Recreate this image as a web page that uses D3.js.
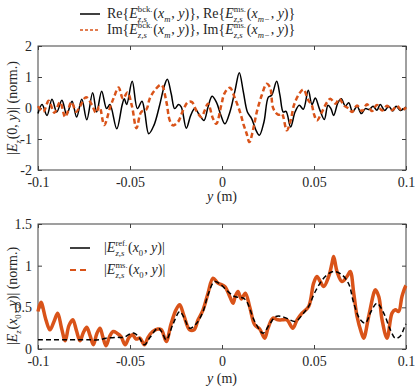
<!DOCTYPE html>
<html>
<head>
<meta charset="utf-8">
<script src="https://cdn.jsdelivr.net/npm/d3@7"></script>
<style>
  body { margin: 0; background: #fff; }
  svg text { font-family: Liberation Serif, Times New Roman, DejaVu Serif, serif; fill: #262626; white-space: pre; }
</style>
</head>
<body>
<div id="chart"></div>
<script>
// ---- data ----
// top panel: Re{} curve (black solid)
var reY = [-0.1, -0.0978, -0.0951, -0.0924, -0.0898, -0.0870, -0.0844, -0.0815, -0.0790, -0.0762,
  -0.0735, -0.0703, -0.0681, -0.0654, -0.0627, -0.0609, -0.0572, -0.0543, -0.0531, -0.0518,
  -0.0488, -0.0460, -0.0435, -0.0420, -0.0398, -0.0370, -0.0339, -0.0315, -0.0297, -0.0276,
  -0.0257, -0.0236, -0.0221, -0.0194, -0.0170, -0.0148, -0.0121, -0.0098, -0.0076, -0.0054,
  -0.0030, -0.0008, 0.0016, 0.0043, 0.0071, 0.0094, 0.0116, 0.0138, 0.0161, 0.0185,
  0.0203, 0.0228, 0.0252, 0.0270, 0.0297, 0.0315, 0.0333, 0.0348, 0.0373, 0.0397,
  0.0420, 0.0442, 0.0469, 0.0489, 0.0507, 0.0529, 0.0556, 0.0576, 0.0592, 0.0607,
  0.0630, 0.0648, 0.0670, 0.0689, 0.0710, 0.0734, 0.0757, 0.0779, 0.0801, 0.0821,
  0.0842, 0.0860, 0.0884, 0.0906, 0.0928, 0.0946, 0.0969, 0.0984, 0.1];
var reVal = [-0.18, 0.11, -0.24, 0.28, -0.13, 0.25, -0.21, 0.22, -0.29, 0.28,
  -0.38, 0.49, -0.13, 0.54, -0.02, 0.11, -0.67, 0.09, 0.30, 0.11,
  0.86, -0.02, 0.22, -0.13, -0.83, -0.56, 0.09, 0.68, 0.93, 0.46,
  -0.02, 0.11, 0.03, -0.65, -0.24, -0.02, -0.24, -0.40, 0.03, 0.38,
  0.18, -0.20, -0.51, -0.13, 0.57, 1.14, 0.52, -0.13, -0.34, -0.72,
  -0.88, -0.45, 0.35, 0.41, 0.86, 0.41, -0.13, -0.11, -0.61, -0.13,
  0.09, -0.04, 0.57, 0.11, 0.32, -0.02, -0.37, 0.09, -0.02, -0.24,
  0.17, 0.30, 0.06, 0.17, -0.13, 0.06, -0.18, -0.02, -0.05, 0.06,
  -0.07, 0.11, -0.08, 0.06, -0.10, 0.06, -0.08, -0.04, 0.03];

// top panel: Im{} curve (orange dotted)
var imY = [-0.1, -0.0971, -0.0942, -0.0911, -0.0880, -0.0852, -0.0818, -0.0793, -0.0772, -0.0739,
  -0.0707, -0.0685, -0.0666, -0.0640, -0.0609, -0.0587, -0.0562, -0.0538, -0.0514, -0.0489,
  -0.0465, -0.0439, -0.0411, -0.0393, -0.0366, -0.0330, -0.0302, -0.0284, -0.0266, -0.0239,
  -0.0212, -0.0185, -0.0163, -0.0140, -0.0112, -0.0094, -0.0076, -0.0049, -0.0031, -0.0004,
  0.0015, 0.0043, 0.0071, 0.0098, 0.0116, 0.0134, 0.0149, 0.0170, 0.0189, 0.0216,
  0.0243, 0.0261, 0.0279, 0.0306, 0.0325, 0.0352, 0.0373, 0.0391, 0.0415, 0.0442,
  0.0469, 0.0488, 0.0500, 0.0516, 0.0543, 0.0571, 0.0589, 0.0616, 0.0638, 0.0661,
  0.0689, 0.0707, 0.0734, 0.0761, 0.0788, 0.0815, 0.0842, 0.0870, 0.0897, 0.0924,
  0.0951, 0.0978, 0.1];
var imVal = [0.06, -0.12, 0.23, -0.15, 0.19, -0.29, 0.19, -0.12, 0.05, 0.35,
  0.10, -0.15, 0.05, -0.55, 0.0, 0.35, 0.66, 0.30, 0.50, 0.05,
  -0.65, -0.13, -0.05, 0.30, 0.57, 0.75, 0.19, -0.40, -0.56, -0.45,
  -0.08, 0.19, 0.19, -0.08, -0.29, -0.08, 0.14, -0.34, -0.51, 0.09,
  0.49, 0.65, 0.30, -0.13, -0.51, -0.83, -1.10, -0.67, -0.13, 0.41,
  0.78, 0.67, -0.02, -0.22, -0.18, -0.72, -0.40, 0.09, 0.41, 0.60,
  0.25, 0.09, -0.20, -0.40, -0.13, 0.19, 0.30, 0.14, 0.30, 0.09,
  -0.02, -0.13, 0.08, -0.10, 0.12, -0.10, 0.10, -0.08, 0.07, -0.07,
  0.06, -0.08, 0.02];

// bottom panel: |E ms.| (orange thick)
var msY = [-0.1, -0.0984, -0.0957, -0.0935, -0.0913, -0.0893, -0.0872, -0.0852, -0.0832, -0.0811,
  -0.0791, -0.0772, -0.0753, -0.0735, -0.0717, -0.0699, -0.0681, -0.0663, -0.0647, -0.0630,
  -0.0611, -0.0591, -0.0571, -0.0549, -0.0526, -0.0505, -0.0486, -0.0467, -0.0446, -0.0422,
  -0.0402, -0.0377, -0.0349, -0.0329, -0.0303, -0.0277, -0.0250, -0.0230, -0.0207, -0.0176,
  -0.0152, -0.0130, -0.0103, -0.0076, -0.0049, -0.0022, 0.0015, 0.0042, 0.0060, 0.0072,
  0.0087, 0.0105, 0.0127, 0.0151, 0.0178, 0.0205, 0.0232, 0.0250, 0.0277, 0.0304,
  0.0326, 0.0353, 0.0385, 0.0408, 0.0435, 0.0471, 0.0498, 0.0516, 0.0534, 0.0553,
  0.0580, 0.0598, 0.0607, 0.0625, 0.0652, 0.0679, 0.0697, 0.0716, 0.0734, 0.0757,
  0.0770, 0.0797, 0.0825, 0.0833, 0.0852, 0.0870, 0.0897, 0.0924, 0.0942, 0.0960,
  0.0978, 0.0997, 0.1];
var msVal = [0.45, 0.56, 0.35, 0.23, 0.33, 0.43, 0.25, 0.10, 0.28, 0.35,
  0.22, 0.10, 0.20, 0.26, 0.16, 0.05, 0.18, 0.25, 0.14, 0.04,
  0.15, 0.21, 0.19, 0.15, 0.05, 0.14, 0.17, 0.12, 0.13, 0.05,
  0.14, 0.21, 0.24, 0.23, 0.09, 0.30, 0.47, 0.53, 0.40, 0.23,
  0.23, 0.35, 0.47, 0.67, 0.85, 0.79, 0.75, 0.63, 0.55, 0.63,
  0.69, 0.60, 0.67, 0.50, 0.29, 0.24, 0.13, 0.25, 0.37, 0.35,
  0.35, 0.35, 0.25, 0.35, 0.43, 0.51, 0.79, 0.87, 0.81, 0.75,
  0.87, 1.03, 1.11, 0.93, 0.81, 0.87, 0.93, 0.67, 0.39, 0.20,
  0.13, 0.39, 0.67, 0.71, 0.63, 0.35, 0.13, 0.43, 0.47, 0.45,
  0.63, 0.75, 0.76];

// bottom panel: |E ref.| (black dashed)
var refY = [-0.1, -0.0826, -0.0717, -0.0668, -0.0630, -0.0576, -0.0533, -0.0500, -0.0477, -0.0451,
  -0.0422, -0.0391, -0.0348, -0.0326, -0.0303, -0.0266, -0.0230, -0.0207, -0.0176, -0.0141,
  -0.0103, -0.0076, -0.0040, -0.0005, 0.0027, 0.0069, 0.0123, 0.0178, 0.0223, 0.0259,
  0.0293, 0.0326, 0.0359, 0.0398, 0.0440, 0.0473, 0.0507, 0.0561, 0.0607, 0.0652,
  0.0689, 0.0716, 0.0752, 0.0779, 0.0810, 0.0842, 0.0879, 0.0915, 0.0942, 0.0967,
  0.0997, 0.1];
var refVal = [0.11, 0.11, 0.11, 0.11, 0.13, 0.14, 0.14, 0.18, 0.19, 0.14,
  0.05, 0.14, 0.25, 0.20, 0.11, 0.30, 0.45, 0.38, 0.25, 0.30,
  0.45, 0.65, 0.81, 0.77, 0.70, 0.63, 0.60, 0.33, 0.19, 0.30,
  0.39, 0.39, 0.36, 0.33, 0.42, 0.52, 0.69, 0.87, 0.93, 0.89,
  0.78, 0.55, 0.35, 0.31, 0.45, 0.55, 0.43, 0.23, 0.13, 0.15,
  0.29, 0.30];

var xTicks = [-0.1, -0.05, 0, 0.05, 0.1];
var topYTicks = [-2, -1, 0, 1, 2];
var botYTicks = [0, 0.5, 1, 1.5];

var orange = "#D95319";
var axisColor = "#404040";
var serif = "Liberation Serif, Times New Roman, DejaVu Serif, serif";
var svgWidth = 415, svgHeight = 390;

var svg = d3.select("#chart").append("svg")
  .attr("width", svgWidth)
  .attr("height", svgHeight);

// writes a little LaTeX-ish text run (sub/superscripts) into g, returns its width
function put(g, x, y, s, fs, it) {
  var t = g.append("text")
    .attr("x", x).attr("y", y)
    .attr("font-family", serif)
    .style("font-size", fs + "px")
    .style("font-style", it ? "italic" : "normal")
    .text(s);
  return t.node().getComputedTextLength();
}
function rich(g, parts, fs) {
  var cx = 0;
  parts.forEach(function(p) {
    if (p.sup !== undefined || p.sub !== undefined) {
      var w = 0;
      if (p.sup) w = Math.max(w, put(g, cx, -fs * 0.42, p.sup, fs * 0.62, p.supI));
      if (p.sub) w = Math.max(w, put(g, cx, fs * 0.26, p.sub, fs * 0.62, p.subI));
      cx += w + 0.8;
    } else {
      cx += put(g, cx, 0, p.t, fs, p.i);
    }
  });
  return cx;
}

var fmt = function(d) { return d === 0 ? "0" : String(d); };

function panel(y0, y1, yDomain, yTicks) {
  var x = d3.scaleLinear().domain([-0.1, 0.1]).range([38, 406]);
  var y = d3.scaleLinear().domain(yDomain).range([y1, y0]);
  var g = svg.append("g");

  g.append("g")
    .attr("transform", "translate(0," + y1 + ")")
    .call(d3.axisBottom(x).tickValues(xTicks).tickFormat(fmt).tickSizeInner(-4).tickSizeOuter(0).tickPadding(7.5));
  g.append("g")
    .attr("transform", "translate(0," + y0 + ")")
    .call(d3.axisTop(x).tickValues(xTicks).tickFormat("").tickSizeInner(-4).tickSizeOuter(0));
  g.append("g")
    .attr("transform", "translate(38,0)")
    .call(d3.axisLeft(y).tickValues(yTicks).tickFormat(fmt).tickSizeInner(-4).tickSizeOuter(0).tickPadding(6));
  g.append("g")
    .attr("transform", "translate(406,0)")
    .call(d3.axisRight(y).tickValues(yTicks).tickFormat("").tickSizeInner(-4).tickSizeOuter(0));

  g.selectAll(".domain").remove();
  g.selectAll("g").attr("font-family", serif);
  g.selectAll(".tick line").attr("stroke", axisColor);
  g.selectAll(".tick text").style("font-size", "14px").attr("fill", "#262626")
    .attr("font-family", serif);

  g.append("rect")
    .attr("x", 38).attr("y", y0)
    .attr("width", 368).attr("height", y1 - y0)
    .attr("fill", "none").attr("stroke", axisColor).attr("stroke-width", 1);

  return { g: g, x: x, y: y };
}

// ---- top panel ----
var p1 = panel(46, 170, [-2, 2], topYTicks);
var smooth = d3.line().curve(d3.curveCatmullRom.alpha(0.5));

p1.g.append("path")
  .attr("d", smooth(reY.map(function(d, i) { return [p1.x(d), p1.y(reVal[i])]; })))
  .attr("fill", "none").attr("stroke", "#000").attr("stroke-width", 1.5);
p1.g.append("path")
  .attr("d", smooth(imY.map(function(d, i) { return [p1.x(d), p1.y(imVal[i])]; })))
  .attr("fill", "none").attr("stroke", orange).attr("stroke-width", 2.5)
  .attr("stroke-dasharray", "5,3");

// ---- bottom panel ----
var p2 = panel(224, 349, [0, 1.5], botYTicks);

p2.g.append("path")
  .attr("d", smooth(msY.map(function(d, i) { return [p2.x(d), p2.y(msVal[i])]; })))
  .attr("fill", "none").attr("stroke", orange).attr("stroke-width", 3.5);
p2.g.append("path")
  .attr("d", smooth(refY.map(function(d, i) { return [p2.x(d), p2.y(refVal[i])]; })))
  .attr("fill", "none").attr("stroke", "#000").attr("stroke-width", 1.5)
  .attr("stroke-dasharray", "5,3");

// ---- axis labels ----
function xLabel(cy) {
  var g = svg.append("g");
  var w = rich(g, [{ t: "y", i: 1 }, { t: "\u00a0(m)" }], 14);
  g.attr("transform", "translate(" + (222 - w / 2) + "," + cy + ")");
}
xLabel(201);
xLabel(383);

function yLabel(cy, parts) {
  var g = svg.append("g");
  var inner = g.append("g");
  var w = rich(inner, parts, 14);
  g.attr("transform", "translate(17," + cy + ") rotate(-90)");
  inner.attr("transform", "translate(" + (-w / 2) + ",0)");
}
yLabel(108, [{ t: "|" }, { t: "E", i: 1 }, { sub: "z", subI: 1 }, { t: "(0,\u00a0" }, { t: "y", i: 1 }, { t: ")|\u00a0(norm.)" }]);
yLabel(296, [{ t: "|" }, { t: "E", i: 1 }, { sub: "z", subI: 1 }, { t: "(" }, { t: "x", i: 1 }, { sub: "0" },
  { t: ",\u00a0" }, { t: "y", i: 1 }, { t: ")|\u00a0(norm.)" }]);

// ---- legends ----
function legendRow(x0, cy, color, width, dash, parts, tx) {
  var ln = svg.append("line")
    .attr("x1", x0).attr("x2", x0 + 20)
    .attr("y1", cy).attr("y2", cy)
    .attr("stroke", color).attr("stroke-width", width);
  if (dash) ln.attr("stroke-dasharray", dash);
  var g = svg.append("g").attr("transform", "translate(" + tx + "," + (cy + 4) + ")");
  rich(g, parts, 14);
}

legendRow(80, 14, "#000", 1.5, null, [
  { t: "Re{" }, { t: "E", i: 1 }, { sup: "bck.", sub: "z,s", subI: 1 }, { t: "(" }, { t: "x", i: 1 }, { sub: "m", subI: 1 },
  { t: ",\u00a0" }, { t: "y", i: 1 }, { t: ")},\u00a0Re{" }, { t: "E", i: 1 }, { sup: "ms.", sub: "z,s", subI: 1 }, { t: "(" },
  { t: "x", i: 1 }, { sub: "m−", subI: 1 }, { t: ",\u00a0" }, { t: "y", i: 1 }, { t: ")}" }
], 107);
legendRow(80, 30, orange, 1.5, "3,2", [
  { t: "Im{" }, { t: "E", i: 1 }, { sup: "bck.", sub: "z,s", subI: 1 }, { t: "(" }, { t: "x", i: 1 }, { sub: "m", subI: 1 },
  { t: ",\u00a0" }, { t: "y", i: 1 }, { t: ")},\u00a0Im{" }, { t: "E", i: 1 }, { sup: "ms.", sub: "z,s", subI: 1 }, { t: "(" },
  { t: "x", i: 1 }, { sub: "m−", subI: 1 }, { t: ",\u00a0" }, { t: "y", i: 1 }, { t: ")}" }
], 107);

legendRow(70, 248, "#000", 1.5, null, [
  { t: "|" }, { t: "E", i: 1 }, { sup: "ref.", sub: "z,s", subI: 1 }, { t: "(" }, { t: "x", i: 1 }, { sub: "0" },
  { t: ",\u00a0" }, { t: "y", i: 1 }, { t: ")|" }
], 104);
legendRow(70, 270, orange, 2, "6,4", [
  { t: "|" }, { t: "E", i: 1 }, { sup: "ms.", sub: "z,s", subI: 1 }, { t: "(" }, { t: "x", i: 1 }, { sub: "0" },
  { t: ",\u00a0" }, { t: "y", i: 1 }, { t: ")|" }
], 104);
</script>
</body>
</html>
